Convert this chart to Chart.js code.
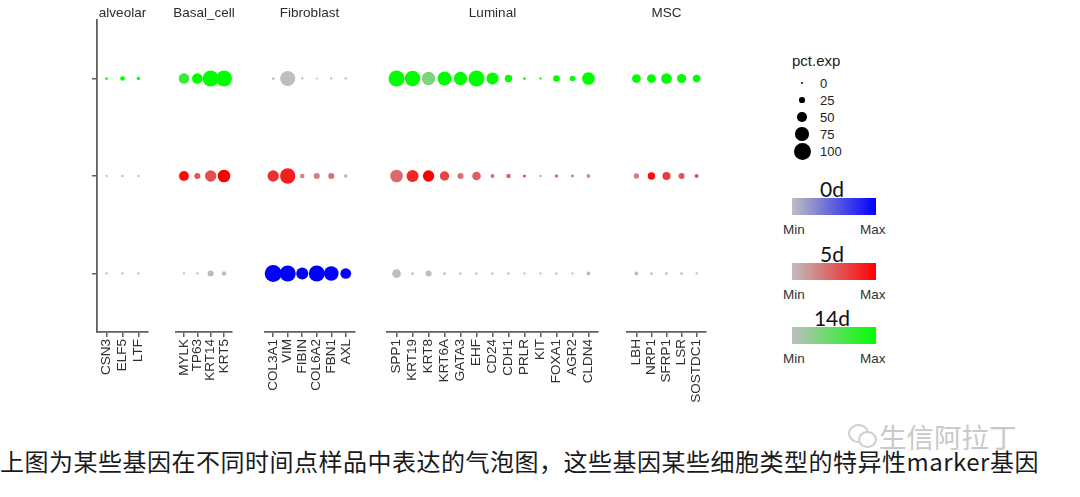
<!DOCTYPE html>
<html>
<head>
<meta charset="utf-8">
<script src="https://cdn.jsdelivr.net/npm/chart.js@4.4.0/dist/chart.umd.min.js"></script>
<style>
body { margin: 0; background: #fff; font-family: "Liberation Sans", Arial, sans-serif; }
#wrap { position: relative; width: 1080px; height: 497px; overflow: hidden; }
#wrap canvas { position: absolute; top: 0; }
.abs { position: absolute; white-space: nowrap; }
.dot { position: absolute; background: #000; border-radius: 50%; }
.bar { position: absolute; width: 84px; height: 17px; }
.tp { font-family: Lato, "Open Sans", sans-serif; font-size: 21px; color: #111; transform: translate(-50%, -50%); }
.mm { font-size: 13.5px; color: #333; transform: translateY(-50%); }
#caption { left: 0; top: 447px; line-height: 28px; font-family: "Noto Sans CJK SC", sans-serif; font-size: 24px; letter-spacing: 0.5px; color: #1a1a1a; }
#mark { left: 879px; top: 419px; line-height: 34px; font-family: "Noto Sans CJK SC", sans-serif; font-size: 27.5px; color: #c9c9c9; }
.ring { position: absolute; border: 2px solid #cfcfcf; border-radius: 50%; }
</style>
</head>
<body>
<div id="wrap"></div>
<script>
const cellTypes = ['alveolar', 'Basal_cell', 'Fibroblast', 'Luminal', 'MSC'];
const alveolarGenes = ['CSN3', 'ELF5', 'LTF'];
const basalGenes = ['MYLK', 'TP63', 'KRT14', 'KRT5'];
const fibroGenes = ['COL3A1', 'VIM', 'FIBIN', 'COL6A2', 'FBN1', 'AXL'];
const luminalGenes = ['SPP1', 'KRT19', 'KRT8', 'KRT6A', 'GATA3', 'EHF', 'CD24', 'CDH1', 'PRLR', 'KIT', 'FOXA1', 'AGR2', 'CLDN4'];
const mscGenes = ['LBH', 'NRP1', 'SFRP1', 'LSR', 'SOSTDC1'];
const panelGenes = [alveolarGenes, basalGenes, fibroGenes, luminalGenes, mscGenes];

const timePoints = ['0d', '5d', '14d'];
const timeColors = ['#0000FF', '#FF0000', '#00FF00'];
const baseGrey = '#BEBEBE';

// percent expressed / scaled expression (0..1), genes in panel order
const pct0d  = [2, 2, 2,  2, 2, 27, 18,  100, 93, 67, 93, 84, 58,  45, 5, 27, 5, 3, 4, 3, 4, 2, 2, 3, 2, 13,  13, 5, 5, 5, 2];
const exp0d  = [0, 0, 0,  0, 0, 0, 0,  1, 1, 1, 1, 1, 1,  0, 0, 0, 0, 0, 0, 0, 0, 0, 0, 0, 0, 0,  0, 0, 0, 0, 0];
const pct5d  = [2, 3, 2,  53, 27, 62, 71,  62, 89, 18, 27, 27, 9,  71, 67, 62, 49, 27, 44, 13, 18, 5, 1, 9, 6, 13,  22, 36, 40, 27, 13];
const exp5d  = [0, 0, 0,  0.95, 0.55, 0.6, 1,  0.75, 0.85, 0.3, 0.35, 0.4, 0.1,  0.45, 0.8, 1, 0.65, 0.4, 0.5, 0.4, 0.45, 0.8, 0.3, 0.45, 0.35, 0.25,  0.35, 0.95, 0.7, 0.55, 0.6];
const pct14d = [5, 18, 9,  57, 57, 93, 93,  5, 87, 2, 1, 2, 3,  93, 90, 76, 80, 76, 93, 67, 36, 5, 2, 31, 22, 71,  45, 45, 58, 48, 37];
const exp14d = [1, 1, 1,  0.7, 1, 1, 1,  0, 0, 0, 0, 0, 0,  1, 1, 0.35, 1, 1, 1, 1, 1, 1, 1, 1, 1, 1,  1, 1, 1, 1, 1];
const pctByTime = [pct0d, pct5d, pct14d];
const expByTime = [exp0d, exp5d, exp14d];

const sizeBreaks = [0, 25, 50, 75, 100];

function radius(p) {
    return 1 + p * 0.075;
}

function hex(c) {
    return [1, 3, 5].map(i => parseInt(c.substr(i, 2), 16));
}

function blend(t, color) {
    let a = hex(baseGrey), b = hex(color);
    let m = a.map((v, i) => Math.round(v + (b[i] - v) * t));
    return 'rgb(' + m.join(',') + ')';
}

const stripTitle = {
    id: 'stripTitle',
    afterDraw(chart, args, opts) {
        const { ctx, chartArea } = chart;
        ctx.save();
        ctx.font = '13.5px "Liberation Sans", Arial';
        ctx.fillStyle = '#2b2b2b';
        ctx.textAlign = 'center';
        ctx.textBaseline = 'middle';
        ctx.fillText(opts.text, (chartArea.left + chartArea.right) / 2, 13);
        ctx.restore();
    }
};

const wrap = document.getElementById('wrap');
const unit = 17.2;
const gap = 16;
const axisLeft = 97;
const canvasH = 410;
const axisColor = '#5f5f5f';

let left = axisLeft;
let offset = 0;

panelGenes.forEach((genes, p) => {
    let n = genes.length;
    let w = unit * (n + 0.2);
    let first = p === 0;
    let canvas = document.createElement('canvas');
    let cw = first ? axisLeft + w : w;
    canvas.width = Math.round(cw);
    canvas.height = canvasH;
    canvas.style.left = (first ? 0 : Math.round(left)) + 'px';
    wrap.appendChild(canvas);

    let datasets = timePoints.map((t, k) => ({
        label: t,
        data: genes.map((g, i) => ({ x: i, y: k, r: radius(pctByTime[k][offset + i]) })),
        backgroundColor: genes.map((g, i) => blend(expByTime[k][offset + i], timeColors[k])),
        borderWidth: 0,
        clip: false
    }));

    new Chart(canvas, {
        type: 'bubble',
        data: { datasets: datasets },
        plugins: [stripTitle],
        options: {
            responsive: false,
            animation: false,
            events: [],
            layout: { padding: { top: 20, left: 0, right: 0, bottom: 0 } },
            plugins: {
                legend: { display: false },
                tooltip: { enabled: false },
                stripTitle: { text: cellTypes[p] }
            },
            scales: {
                x: {
                    type: 'linear',
                    min: -0.6,
                    max: n - 0.4,
                    afterBuildTicks: s => { s.ticks = genes.map((g, i) => ({ value: i })); },
                    afterFit: s => { s.height = canvasH - 332; s.paddingLeft = 0; s.paddingRight = 0; },
                    ticks: {
                        autoSkip: false,
                        minRotation: 90,
                        maxRotation: 90,
                        padding: 2,
                        color: '#2e2e2e',
                        font: { family: 'Liberation Sans', size: 13.5 },
                        callback: (v, i) => genes[i]
                    },
                    grid: { drawOnChartArea: false, tickLength: 5, color: axisColor, lineWidth: 1.5 },
                    border: { color: axisColor, width: 1.8 }
                },
                y: {
                    type: 'linear',
                    display: first,
                    min: -0.6,
                    max: 2.6,
                    afterBuildTicks: s => { s.ticks = timePoints.map((t, k) => ({ value: k })); },
                    afterFit: s => { s.width = first ? axisLeft : 0; s.paddingTop = 0; s.paddingBottom = 0; },
                    ticks: { callback: () => '' },
                    grid: { drawOnChartArea: false, tickLength: 5, color: axisColor, lineWidth: 1.5 },
                    border: { color: axisColor, width: 1.8 }
                }
            }
        }
    });

    left += w + gap;
    offset += n;
});

// size legend
function addEl(cls, css, text) {
    let d = document.createElement('div');
    d.className = cls;
    Object.assign(d.style, css);
    if (text !== undefined) d.textContent = text;
    wrap.appendChild(d);
    return d;
}

addEl('abs mm', { left: '792px', top: '60px', fontSize: '15px', color: '#222' }, 'pct.exp');
sizeBreaks.forEach((b, i) => {
    let y = 83 + i * 17;
    let r = radius(b);
    addEl('dot', { left: (802 - r) + 'px', top: (y - r) + 'px', width: 2 * r + 'px', height: 2 * r + 'px' });
    addEl('abs mm', { left: '820px', top: y + 'px', fontSize: '13px', color: '#222' }, String(b));
});

// colour bars
timePoints.forEach((t, k) => {
    let y0 = 188 + k * 64.5;
    addEl('abs tp', { left: '832px', top: y0 + 'px' }, t);
    addEl('bar', { left: '792px', top: (y0 + 10) + 'px', background: 'linear-gradient(to right, ' + baseGrey + ', ' + timeColors[k] + ')' });
    addEl('abs mm', { left: '783px', top: (y0 + 41) + 'px' }, 'Min');
    addEl('abs mm', { left: '860px', top: (y0 + 41) + 'px' }, 'Max');
});

// caption and watermark
addEl('abs', { left: '0px' }, '上图为某些基因在不同时间点样品中表达的气泡图，这些基因某些细胞类型的特异性marker基因').id = 'caption';
addEl('abs', {}, '生信阿拉丁').id = 'mark';
addEl('ring', { left: '848px', top: '424px', width: '17px', height: '15px' });
addEl('ring', { left: '858px', top: '431px', width: '15px', height: '13px', background: '#fff' });
</script>
</body>
</html>
